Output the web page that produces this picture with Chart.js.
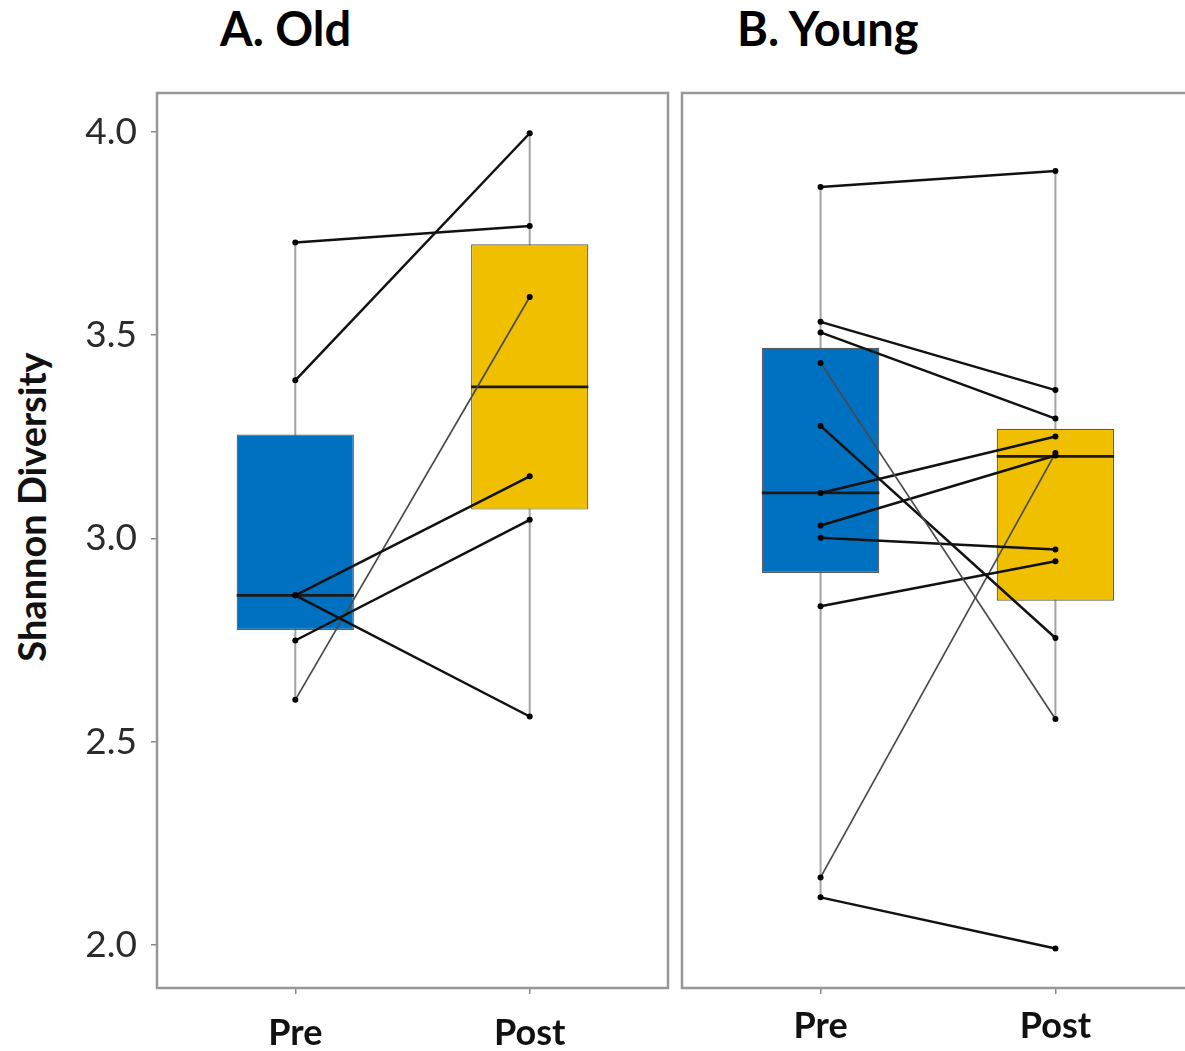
<!DOCTYPE html>
<html>
<head>
<meta charset="utf-8">
<script src="https://cdn.jsdelivr.net/npm/chart.js@4.4.1/dist/chart.umd.min.js"></script>
<style>
  body { margin: 0; width: 1185px; height: 1051px; overflow: hidden; background: #fff; position: relative; font-family: Lato, sans-serif; }
  .panel { position: absolute; top: 0; height: 1051px; }
  #panelA { left: 0; width: 672px; }
  #panelB { left: 672px; width: 527px; }
  .title { position: absolute; top: 5px; font: bold 47px Lato, sans-serif; line-height: 1; color: #000; white-space: nowrap; }
  #ytitle { position: absolute; left: 31px; top: 507px; transform: translate(-50%, -50%) rotate(-90deg); font: bold 38px Lato, sans-serif; line-height: 1; color: #111; white-space: nowrap; }
</style>
</head>
<body>
<div class="title" style="left:220px">A. Old</div>
<div class="title" style="left:737px">B. Young</div>
<div id="ytitle">Shannon Diversity</div>
<div class="panel" id="panelA"><canvas id="chartA"></canvas></div>
<div class="panel" id="panelB"><canvas id="chartB"></canvas></div>

<script>
const groups = ['Pre', 'Post'];
const yTicks = [2.0, 2.5, 3.0, 3.5, 4.0];

// A. Old - one value per subject, paired by position
const oldPre  = [3.728, 3.389, 2.860, 2.860, 2.749, 2.603];
const oldPost = [3.769, 3.997, 3.153, 2.562, 3.046, 3.594];
// box stats per group [Pre, Post]
const oldQ1     = [2.775, 3.071];
const oldMedian = [2.860, 3.373];
const oldQ3     = [3.256, 3.724];
const oldLow    = [2.603, 2.562];
const oldHigh   = [3.728, 3.997];

// B. Young
const youngPre  = [3.865, 3.533, 3.507, 3.432, 3.277, 3.112, 3.032, 3.002, 2.833, 2.166, 2.117];
const youngPost = [3.904, 3.365, 3.295, 2.556, 2.755, 3.251, 3.204, 2.973, 2.944, 3.210, 1.991];
const youngQ1     = [2.915, 2.847];
const youngMedian = [3.112, 3.202];
const youngQ3     = [3.469, 3.270];
const youngLow    = [2.117, 2.556];
const youngHigh   = [3.865, 3.904];

const boxColors = ['#0070C0', '#F0C000'];
const boxWidth = 0.5; // in x units, Pre and Post are 1 apart

function buildDatasets(pre, post, q1, med, q3, low, high) {
    const sets = [];
    groups.forEach((g, i) => {
        // whisker
        sets.push({
            type: 'line',
            data: [{x: i + 1, y: low[i]}, {x: i + 1, y: high[i]}],
            borderColor: '#a3a3a3',
            borderWidth: 2,
            pointRadius: 0,
            order: 10
        });
        // median
        sets.push({
            type: 'line',
            data: [{x: i + 1 - boxWidth / 2, y: med[i]}, {x: i + 1 + boxWidth / 2, y: med[i]}],
            borderColor: '#1a1a1a',
            borderWidth: 2.8,
            pointRadius: 0,
            order: 8
        });
    });
    sets.push({
        type: 'bar',
        data: groups.map((g, i) => ({x: i + 1, y: [q1[i], q3[i]]})),
        backgroundColor: boxColors,
        borderColor: '#5a5a5a',
        borderWidth: 1.2,
        borderSkipped: false,
        barPercentage: boxWidth,
        categoryPercentage: 1,
        grouped: false,
        order: 9
    });
    pre.forEach((v, i) => {
        const steep = Math.abs(post[i] - v) > 0.8; // steep lines look thinner in the original
        sets.push({
            type: 'line',
            data: [{x: 1, y: v}, {x: 2, y: post[i]}],
            borderColor: steep ? '#4a4a4a' : '#111',
            borderWidth: steep ? 1.7 : 2.5,
            pointRadius: 3,
            pointBackgroundColor: '#000',
            pointBorderWidth: 0,
            order: 1
        });
    });
    return sets;
}

const frame = {
    id: 'frame',
    afterDraw(chart) {
        const {ctx, chartArea: a} = chart;
        ctx.save();
        ctx.strokeStyle = '#979797';
        ctx.lineWidth = 2.5;
        ctx.strokeRect(a.left, a.top, a.right - a.left, a.bottom - a.top);
        ctx.restore();
    }
};

function xScale(pad) {
    return {
        type: 'linear',
        min: 0.41,
        max: 2.59,
        offset: false,
        afterBuildTicks: s => { s.ticks = groups.map((g, i) => ({value: i + 1})); },
        afterFit: s => { s.height = 63; },
        ticks: {
            callback: v => groups[v - 1],
            color: '#111',
            font: {family: 'Lato', size: 36, weight: 'bold'},
            padding: pad,
            maxRotation: 0
        },
        grid: {offset: false, drawOnChartArea: false, tickLength: 6, color: '#888', lineWidth: 1.5},
        border: {display: false}
    };
}

function createChart(id, datasets, showY, pad, padding) {
    return new Chart(document.getElementById(id), {
        type: 'line',
        data: {datasets: datasets},
        options: {
            responsive: true,
            maintainAspectRatio: false,
            animation: false,
            events: [],
            layout: {padding: padding},
            plugins: {
                legend: {display: false},
                tooltip: {enabled: false}
            },
            scales: {
                x: xScale(pad),
                y: {
                    display: showY,
                    min: 1.894,
                    max: 4.096,
                    afterBuildTicks: s => { s.ticks = yTicks.map(v => ({value: v})); },
                    afterFit: s => { s.width = showY ? 157 : 0; },
                    ticks: {
                        callback: v => v.toFixed(1),
                        color: '#2b2b2b',
                        font: {family: 'Lato', size: 37},
                        padding: 14
                    },
                    grid: {drawOnChartArea: false, tickLength: 6, color: '#888', lineWidth: 1.5},
                    border: {display: false}
                }
            }
        },
        plugins: [frame]
    });
}

createChart('chartA',
    buildDatasets(oldPre, oldPost, oldQ1, oldMedian, oldQ3, oldLow, oldHigh),
    true, 18, {top: 93, left: 0, right: 3, bottom: 0});
createChart('chartB',
    buildDatasets(youngPre, youngPost, youngQ1, youngMedian, youngQ3, youngLow, youngHigh),
    false, 11, {top: 93, left: 10, right: 5, bottom: 0});
</script>
</body>
</html>
